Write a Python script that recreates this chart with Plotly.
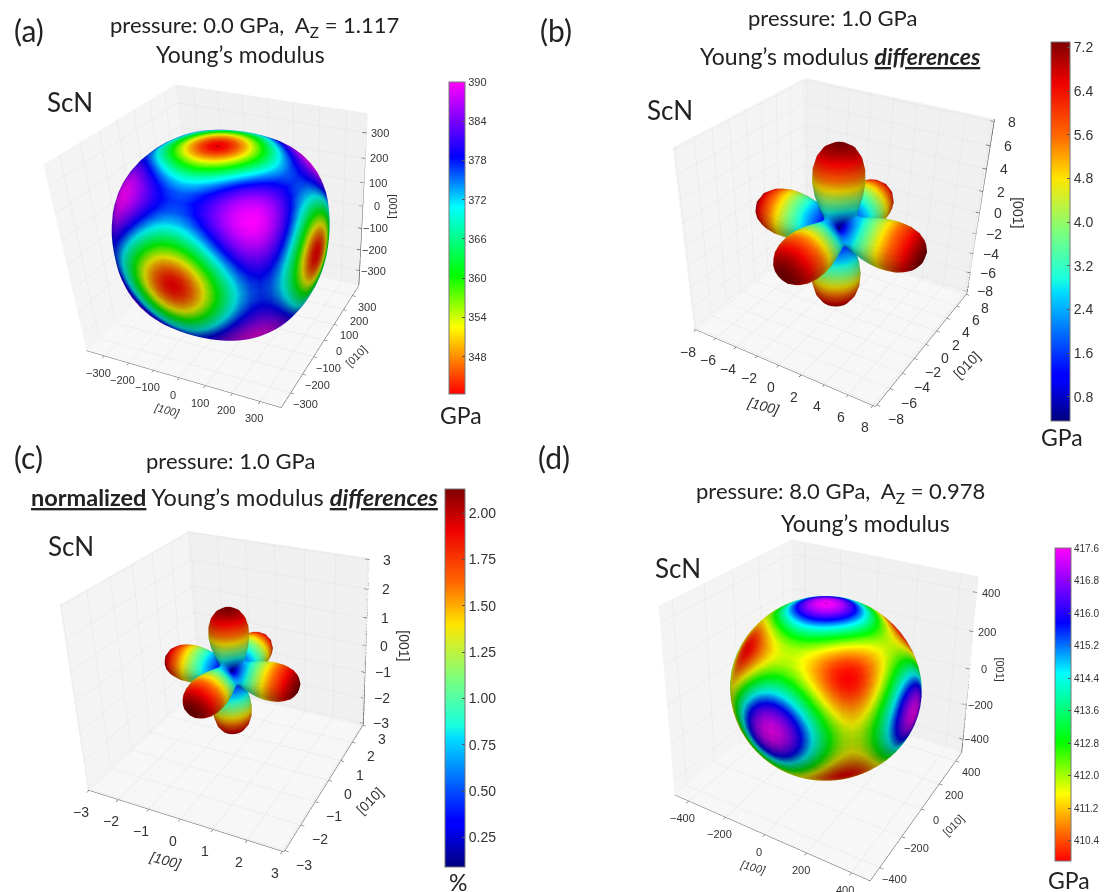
import numpy as np
import plotly.graph_objects as go

# The page body adds an 8 px margin, so the figure is 8 px smaller on each axis and positions are shifted.
PAGE = 8
W, H = 1100, 884

# The four surface tables were NOT read cell by cell. I worked them out by hand from a cubic-symmetry
# shape estimate (l^2 m^2 + m^2 n^2 + n^2 l^2), anchored to the colourbar extremes, then typed them in.
# full_grid() also mirrors each wedge across the sphere. They are approximations, not measured values.
theta_deg = [0, 5, 10, 15, 20, 25, 30, 35, 40, 45, 50, 55, 60, 65, 70, 75, 80, 85, 90]
phi_deg = [0, 5, 10, 15, 20, 25, 30, 35, 40, 45]

young_a = [
    [342.0, 342.0, 342.0, 342.0, 342.0, 342.0, 342.0, 342.0, 342.0, 342.0],
    [343.0, 343.0, 343.0, 343.0, 343.0, 343.0, 343.0, 343.0, 343.0, 343.0],
    [345.8, 345.8, 345.8, 345.8, 345.8, 345.8, 345.8, 345.8, 345.8, 345.8],
    [350.2, 350.2, 350.2, 350.2, 350.2, 350.2, 350.3, 350.3, 350.3, 350.3],
    [355.7, 355.7, 355.7, 355.8, 355.9, 356.0, 356.0, 356.1, 356.1, 356.2],
    [361.7, 361.8, 361.9, 362.0, 362.2, 362.4, 362.6, 362.7, 362.8, 362.9],
    [367.6, 367.7, 367.9, 368.2, 368.6, 369.0, 369.3, 369.7, 369.9, 369.9],
    [372.5, 372.7, 373.0, 373.6, 374.2, 374.9, 375.6, 376.1, 376.5, 376.6],
    [375.8, 376.0, 376.6, 377.4, 378.5, 379.6, 380.7, 381.6, 382.2, 382.4],
    [377.0, 377.2, 378.1, 379.4, 380.9, 382.6, 384.2, 385.5, 386.4, 386.7],
    [375.8, 376.2, 377.3, 379.1, 381.3, 383.6, 385.8, 387.6, 388.8, 389.2],
    [372.5, 373.0, 374.5, 376.8, 379.6, 382.6, 385.5, 387.9, 389.5, 390.0],
    [367.6, 368.2, 370.0, 372.8, 376.3, 380.0, 383.6, 386.5, 388.5, 389.2],
    [361.7, 362.5, 364.6, 367.8, 371.9, 376.3, 380.5, 384.0, 386.3, 387.1],
    [355.7, 356.5, 358.8, 362.5, 367.1, 372.1, 376.9, 380.9, 383.5, 384.4],
    [350.2, 351.0, 353.6, 357.6, 362.6, 368.0, 373.3, 377.7, 380.6, 381.6],
    [345.8, 346.7, 349.4, 353.6, 358.9, 364.7, 370.3, 375.0, 378.1, 379.2],
    [343.0, 343.9, 346.7, 351.0, 356.5, 362.5, 368.3, 373.2, 376.4, 377.5],
    [342.0, 343.0, 345.8, 350.2, 355.7, 361.7, 367.6, 372.5, 375.8, 377.0],
]
diff_b = [
    [7.30, 7.30, 7.30, 7.30, 7.30, 7.30, 7.30, 7.30, 7.30, 7.30],
    [7.22, 7.22, 7.22, 7.22, 7.22, 7.22, 7.22, 7.22, 7.22, 7.22],
    [6.93, 6.93, 6.93, 6.93, 6.93, 6.93, 6.93, 6.93, 6.93, 6.93],
    [6.37, 6.37, 6.37, 6.37, 6.36, 6.36, 6.36, 6.36, 6.35, 6.35],
    [5.60, 5.60, 5.59, 5.58, 5.57, 5.56, 5.55, 5.54, 5.53, 5.53],
    [4.71, 4.71, 4.69, 4.67, 4.64, 4.61, 4.59, 4.57, 4.55, 4.54],
    [3.82, 3.81, 3.78, 3.74, 3.68, 3.61, 3.56, 3.51, 3.49, 3.47],
    [3.07, 3.05, 2.99, 2.91, 2.81, 2.71, 2.59, 2.51, 2.46, 2.43],
    [2.56, 2.53, 2.44, 2.31, 2.14, 1.97, 1.80, 1.66, 1.57, 1.55],
    [2.39, 2.34, 2.21, 2.02, 1.77, 1.51, 1.26, 1.05, 0.92, 0.88],
    [2.56, 2.50, 2.32, 2.05, 1.72, 1.36, 1.01, 0.73, 0.54, 0.48],
    [3.07, 2.98, 2.77, 2.41, 1.98, 1.50, 1.05, 0.69, 0.44, 0.36],
    [3.82, 3.73, 3.45, 3.02, 2.48, 1.91, 1.36, 0.90, 0.60, 0.49],
    [4.71, 4.60, 4.28, 3.79, 3.17, 2.48, 1.83, 1.29, 0.94, 0.80],
    [5.60, 5.48, 5.14, 4.60, 3.90, 3.14, 2.40, 1.78, 1.37, 1.23],
    [6.37, 6.25, 5.90, 5.33, 4.59, 3.76, 2.95, 2.27, 1.82, 1.66],
    [6.93, 6.81, 6.47, 5.90, 5.13, 4.27, 3.41, 2.70, 2.21, 2.05],
    [7.23, 7.13, 6.81, 6.25, 5.48, 4.60, 3.71, 2.97, 2.47, 2.30],
    [7.30, 7.23, 6.93, 6.37, 5.60, 4.71, 3.82, 3.07, 2.56, 2.39],
]
diff_c = [
    [2.13, 2.13, 2.13, 2.13, 2.13, 2.13, 2.13, 2.13, 2.13, 2.13],
    [2.11, 2.11, 2.11, 2.11, 2.11, 2.11, 2.11, 2.11, 2.11, 2.11],
    [2.02, 2.02, 2.02, 2.02, 2.02, 2.02, 2.02, 2.02, 2.02, 2.02],
    [1.86, 1.86, 1.86, 1.86, 1.86, 1.86, 1.86, 1.86, 1.85, 1.85],
    [1.63, 1.63, 1.63, 1.63, 1.63, 1.62, 1.62, 1.62, 1.61, 1.61],
    [1.37, 1.37, 1.37, 1.36, 1.35, 1.35, 1.34, 1.33, 1.33, 1.32],
    [1.11, 1.11, 1.10, 1.09, 1.07, 1.05, 1.04, 1.02, 1.02, 1.01],
    [0.90, 0.89, 0.87, 0.85, 0.82, 0.79, 0.76, 0.73, 0.72, 0.71],
    [0.75, 0.74, 0.71, 0.67, 0.62, 0.57, 0.53, 0.48, 0.46, 0.45],
    [0.70, 0.68, 0.64, 0.59, 0.52, 0.44, 0.37, 0.31, 0.27, 0.26],
    [0.75, 0.73, 0.68, 0.60, 0.50, 0.40, 0.29, 0.21, 0.16, 0.14],
    [0.90, 0.87, 0.81, 0.70, 0.58, 0.44, 0.31, 0.20, 0.13, 0.09],
    [1.11, 1.09, 1.01, 0.88, 0.72, 0.56, 0.40, 0.26, 0.18, 0.14],
    [1.37, 1.34, 1.25, 1.11, 0.93, 0.72, 0.53, 0.38, 0.27, 0.23],
    [1.63, 1.60, 1.50, 1.34, 1.14, 0.92, 0.70, 0.52, 0.40, 0.36],
    [1.86, 1.82, 1.72, 1.56, 1.34, 1.10, 0.86, 0.66, 0.53, 0.48],
    [2.02, 1.99, 1.89, 1.72, 1.50, 1.25, 1.00, 0.79, 0.64, 0.60],
    [2.11, 2.08, 1.99, 1.82, 1.60, 1.34, 1.08, 0.87, 0.72, 0.67],
    [2.13, 2.11, 2.02, 1.86, 1.63, 1.37, 1.11, 0.90, 0.75, 0.70],
]
young_d = [
    [417.60, 417.60, 417.60, 417.60, 417.60, 417.60, 417.60, 417.60, 417.60, 417.60],
    [417.42, 417.42, 417.42, 417.42, 417.42, 417.42, 417.42, 417.42, 417.42, 417.42],
    [416.92, 416.92, 416.92, 416.92, 416.92, 416.92, 416.92, 416.92, 416.92, 416.92],
    [416.16, 416.16, 416.15, 416.15, 416.15, 416.14, 416.14, 416.13, 416.13, 416.13],
    [415.21, 415.21, 415.20, 415.19, 415.18, 415.17, 415.15, 415.14, 415.14, 415.13],
    [414.21, 414.21, 414.19, 414.17, 414.14, 414.10, 414.07, 414.05, 414.03, 414.03],
    [413.27, 413.26, 413.23, 413.18, 413.12, 413.06, 413.00, 412.95, 412.92, 412.91],
    [412.50, 412.48, 412.43, 412.34, 412.24, 412.13, 412.03, 411.95, 411.89, 411.87],
    [412.00, 411.97, 411.88, 411.75, 411.59, 411.42, 411.26, 411.13, 411.04, 411.01],
    [411.83, 411.78, 411.66, 411.46, 411.23, 410.98, 410.74, 410.55, 410.42, 410.38],
    [412.00, 411.94, 411.77, 411.50, 411.18, 410.83, 410.51, 410.24, 410.07, 410.01],
    [412.50, 412.42, 412.20, 411.85, 411.43, 410.97, 410.55, 410.20, 409.98, 409.90],
    [413.27, 413.17, 412.89, 412.46, 411.93, 411.36, 410.83, 410.40, 410.12, 410.02],
    [414.21, 414.09, 413.76, 413.24, 412.60, 411.93, 411.29, 410.77, 410.43, 410.32],
    [415.21, 415.08, 414.69, 414.09, 413.35, 412.57, 411.84, 411.24, 410.85, 410.71],
    [416.16, 416.00, 415.57, 414.90, 414.08, 413.21, 412.39, 411.72, 411.28, 411.13],
    [416.92, 416.76, 416.29, 415.57, 414.68, 413.74, 412.85, 412.13, 411.66, 411.49],
    [417.43, 417.25, 416.76, 416.00, 415.08, 414.09, 413.16, 412.40, 411.91, 411.74],
    [417.60, 417.43, 416.92, 416.16, 415.21, 414.21, 413.27, 412.50, 412.00, 411.83],
]

ticks_a = [-300, -200, -100, 0, 100, 200, 300]
ticks_b = [-8, -6, -4, -2, 0, 2, 4, 6, 8]
ticks_c = [-3, -2, -1, 0, 1, 2, 3]
ticks_d = [-400, -200, 0, 200, 400]
cbar_a = [348, 354, 360, 366, 372, 378, 384, 390]
cbar_b = [0.8, 1.6, 2.4, 3.2, 4.0, 4.8, 5.6, 6.4, 7.2]
cbar_c = [0.25, 0.50, 0.75, 1.00, 1.25, 1.50, 1.75, 2.00]
cbar_d = [410.4, 411.2, 412.0, 412.8, 413.6, 414.4, 415.2, 416.0, 416.8, 417.6]

rainbow = [[0, "#ff0000"], [0.215, "#ffff00"], [0.38, "#00ff00"], [0.60, "#00ffff"],
           [0.76, "#0000ff"], [1, "#ff00ff"]]
jet = [[0, "#00007f"], [0.11, "#0000ff"], [0.125, "#0000ff"], [0.34, "#00dcff"], [0.375, "#19ffde"],
       [0.5, "#7dff7a"], [0.64, "#ffe600"], [0.75, "#ff6a00"], [0.89, "#f00000"], [1, "#7f0000"]]

RIGHT = np.array([0.866, 0.5, 0.0])
UP = np.array([-0.25, 0.433, 0.866])
VIEW = np.array([0.433, -0.75, 0.5])
K = 1.24


def full_grid(table):
    rows = []
    for row in table:
        q = list(row) + list(row[-2::-1])
        rows.append(q + q[1:] + q[1:] + q[1:])
    rows = rows + rows[-2::-1]
    return np.array(rows, dtype=float)


def xyz(table):
    v = full_grid(table)
    th = np.radians(list(theta_deg) + [180 - t for t in theta_deg[-2::-1]])
    step = phi_deg[1] - phi_deg[0]
    ph = np.radians(np.arange(v.shape[1]) * step)
    T, P = np.meshgrid(th, ph, indexing="ij")
    return v * np.sin(T) * np.cos(P), v * np.sin(T) * np.sin(P), v * np.cos(T), v


def axis(ticks, lim, bg):
    return dict(title=dict(text=""), range=[-lim, lim], tickvals=ticks, showticklabels=False,
                backgroundcolor=bg, showbackground=True, gridcolor="#e4e4e4", gridwidth=1,
                showline=True, linecolor="#555555", linewidth=1, ticks="outside", ticklen=3,
                tickcolor="#444444", zeroline=False, showspikes=False)


def label(text, x, y, z, fs, xs, ys, angle=0, italic=False):
    t = "<i>" + text + "</i>" if italic else text
    return dict(x=x, y=y, z=z, text=t, showarrow=False, xshift=xs, yshift=ys, textangle=angle,
                font=dict(size=fs, color="#333333", family="Liberation Sans"))


def scene(box, cx, cy, scale, ticks, lim, fs):
    x0, x1, y0, y1 = box
    px, py = cx - PAGE, cy - PAGE
    dx = px - (x0 + x1) / 2
    dy = py - (y0 + y1) / 2
    eye = (y1 - y0) * K / scale
    c = -RIGHT * dx / scale + UP * dy / scale
    e = VIEW * eye
    z_axis = axis(ticks, lim, "#f7f7f7")
    z_axis.update(showline=False, ticks="")
    k = fs / 11
    notes = []
    for t in ticks:
        s = f"{t}".replace("-", "\u2212")
        notes.append(label(s, t, -lim, -lim, fs, -6 * k, -17 * k))
        notes.append(label(s, lim, t, -lim, fs, 15 * k, -11 * k))
        notes.append(label(s, lim, lim, t, fs, 14 * k, 0))
    notes.append(label("[100]", 0, -lim, -lim, fs, -12 * k, -32 * k, 15, True))
    notes.append(label("[010]", lim, 0, -lim, fs, 32 * k, -16 * k, -45))
    notes.append(label("[001]", lim, lim, 0, fs, 30 * k, 0, 90))
    return dict(domain=dict(x=[x0 / W, x1 / W], y=[1 - y1 / H, 1 - y0 / H]),
                xaxis=axis(ticks, lim, "#f4f4f4"), yaxis=axis(ticks, lim, "#f0f0f0"), zaxis=z_axis,
                aspectmode="manual", aspectratio=dict(x=1.06, y=1.06, z=1.0), annotations=notes,
                camera=dict(eye=dict(x=e[0], y=e[1], z=e[2]), up=dict(x=0, y=0, z=1),
                            center=dict(x=c[0], y=c[1], z=c[2])))


def z_axis_line(name, ticks, lim):
    xs, ys, zs = [lim, lim, None], [lim, lim, None], [-lim, lim, None]
    for t in ticks:
        xs += [lim, lim * 0.96, None]
        ys += [lim, lim, None]
        zs += [t, t, None]
    return go.Scatter3d(x=xs, y=ys, z=zs, mode="lines", line=dict(color="#555555", width=1.5), scene=name,
                        showlegend=False, hoverinfo="skip")


def surf(table, colors, cmin, cmax, name, bar_x, bar_w, top, bottom, tickvals, fmt, fs):
    x, y, z, v = xyz(table)
    return go.Surface(x=x, y=y, z=z, surfacecolor=v, colorscale=colors, cmin=cmin, cmax=cmax, scene=name,
                      lighting=dict(ambient=0.66, diffuse=0.36, specular=0.0, roughness=1.0, fresnel=0),
                      lightposition=dict(x=2000, y=-3000, z=4000),
                      colorbar=dict(x=(bar_x - PAGE) / W, xanchor="left", xpad=0, y=1 - (top - PAGE) / H, yanchor="top", ypad=0,
                                    len=bottom - top, lenmode="pixels", thickness=bar_w, thicknessmode="pixels",
                                    tickvals=tickvals, tickformat=fmt, ticks="inside", ticklen=3,
                                    tickcolor="#555555", outlinecolor="#777777", outlinewidth=1,
                                    tickfont=dict(size=fs, color="#333333", family="Liberation Sans")))


fig = go.Figure()
fig.add_trace(surf(young_a, rainbow, 342.3, 390, "scene", 449, 16, 82, 394, cbar_a, "d", 11))
fig.add_trace(surf(diff_b, jet, 0.36, 7.3, "scene2", 1051, 19, 42, 421, cbar_b, ".1f", 14))
fig.add_trace(surf(diff_c, jet, 0.09, 2.13, "scene3", 445, 20, 489, 867, cbar_c, ".2f", 14))
fig.add_trace(surf(young_d, rainbow, 409.9, 417.6, "scene4", 1055, 16, 548, 861, cbar_d, ".1f", 10))
fig.add_trace(z_axis_line("scene", ticks_a, 375))
fig.add_trace(z_axis_line("scene2", ticks_b, 8.2))
fig.add_trace(z_axis_line("scene3", ticks_c, 3.05))
fig.add_trace(z_axis_line("scene4", ticks_d, 480))

texts = [
    ("(a)", 29, 30, 30), ("pressure: 0.0 GPa,  A<sub>Z</sub> = 1.117", 254, 26, 22), ("Young’s modulus", 240, 54, 23),
    ("ScN", 70, 102, 26), ("GPa", 461, 415, 23),
    ("(b)", 556, 30, 30), ("pressure: 1.0 GPa", 832, 18, 22),
    ("Young’s modulus <b><i><u>differences</u></i></b>", 840, 56, 23), ("ScN", 670, 110, 26), ("GPa", 1062, 437, 23),
    ("(c)", 28, 457, 30), ("pressure: 1.0 GPa", 230, 461, 22),
    ("<b><u>normalized</u></b> Young’s modulus <b><i><u>differences</u></i></b>", 234, 497, 23.5),
    ("ScN", 71, 546, 26), ("%", 458, 882, 23),
    ("(d)", 554, 457, 30), ("pressure: 8.0 GPa,  A<sub>Z</sub> = 0.978", 840, 492, 22), ("Young’s modulus", 865, 523, 23),
    ("ScN", 678, 568, 26), ("GPa", 1069, 880, 23),
]
annotations = [dict(text=t, x=(px - PAGE) / W, y=1 - (py - PAGE) / H, xref="paper", yref="paper", showarrow=False,
                    xanchor="center", yanchor="middle", font=dict(family="Lato", size=s, color="#222222"))
               for t, px, py, s in texts]

fig.update_layout(
    width=W, height=H, margin=dict(l=0, r=0, t=0, b=0), paper_bgcolor="white",
    showlegend=False, annotations=annotations,
    scene=scene((0, 600, 0, 604), 228, 226, 208, ticks_a, 375, 11),
    scene2=scene((500, 1100, 0, 604), 836, 226, 207, ticks_b, 8.2, 14),
    scene3=scene((0, 600, 280, 884), 224, 670, 204, ticks_c, 3.05, 14),
    scene4=scene((500, 1100, 280, 884), 827, 689, 212, ticks_d, 480, 11),
)
fig.write_html("out.html")
